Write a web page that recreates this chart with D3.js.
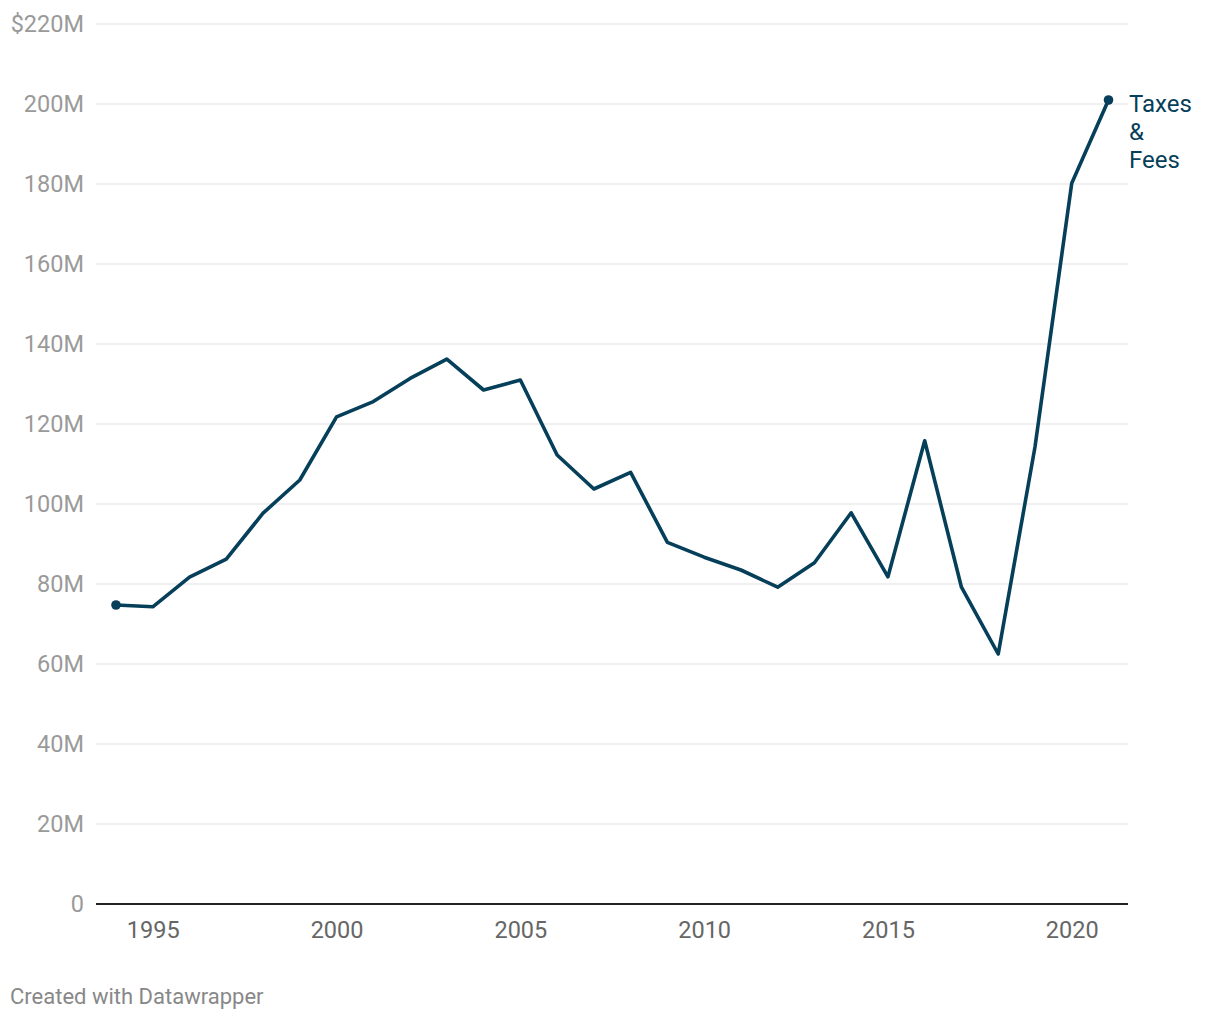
<!DOCTYPE html>
<html>
<head>
<meta charset="utf-8">
<script src="https://cdn.jsdelivr.net/npm/d3@7"></script>
<style>
  body { margin: 0; background: #fff; font-family: Roboto, sans-serif; }
</style>
</head>
<body>
<svg id="chart"></svg>
<script>
const years = d3.range(1994, 2022);
const taxesFees = [74.75, 74.3, 81.7, 86.2, 97.7, 106, 121.8, 125.6, 131.4, 136.2,
  128.5, 131, 112.25, 103.75, 107.9, 90.4, 86.7, 83.5, 79.2, 85.3,
  97.8, 81.8, 115.8, 79.2, 62.5, 114.25, 180.2, 201];
const yTicks = [0, 20, 40, 60, 80, 100, 120, 140, 160, 180, 200, 220];
const xTicks = [1995, 2000, 2005, 2010, 2015, 2020];
const seriesLabel = ["Taxes", "&", "Fees"];

const width = 1220, height = 1020;
const svg = d3.select("#chart").attr("width", width).attr("height", height);

const x = d3.scaleLinear().domain([1994, 2021]).range([116, 1108.5]);
const y = d3.scaleLinear().domain([0, 220]).range([904, 24]);
const color = "#063f5a";

// gridlines
svg.append("g")
  .selectAll("line")
  .data(yTicks.filter(d => d > 0))
  .enter().append("line")
  .attr("x1", 96).attr("x2", 1128)
  .attr("y1", d => y(d)).attr("y2", d => y(d))
  .attr("stroke", "#e2e2e2").attr("stroke-width", 1.2);

// y labels
svg.append("g")
  .selectAll("text")
  .data(yTicks)
  .enter().append("text")
  .attr("x", 84).attr("y", d => y(d))
  .attr("dy", "0.36em")
  .attr("text-anchor", "end")
  .attr("fill", "#9a9a9a")
  .style("font-size", "23.5px")
  .text(d => d === 0 ? "0" : (d === 220 ? "$" : "") + d + "M");

// baseline
svg.append("line")
  .attr("x1", 96).attr("x2", 1128)
  .attr("y1", y(0)).attr("y2", y(0))
  .attr("stroke", "#222").attr("stroke-width", 2);

// x axis
const xAxis = svg.append("g")
  .attr("transform", `translate(0,${y(0)})`)
  .call(d3.axisBottom(x).tickValues(xTicks).tickFormat(d3.format("d")).tickSize(0).tickPadding(17));
xAxis.select(".domain").remove();
xAxis.selectAll("text")
  .attr("fill", "#666")
  .style("font-family", "Roboto, sans-serif")
  .style("font-size", "23.5px");

// line
const line = d3.line().x((d, i) => x(years[i])).y(d => y(d));
svg.append("path")
  .datum(taxesFees)
  .attr("d", line)
  .attr("fill", "none")
  .attr("stroke", color)
  .attr("stroke-width", 3.6)
  .attr("stroke-linejoin", "round");

// end points
const last = taxesFees.length - 1;
svg.selectAll("circle.end")
  .data([0, last])
  .enter().append("circle")
  .attr("cx", i => x(years[i]))
  .attr("cy", i => y(taxesFees[i]))
  .attr("r", 4.8)
  .attr("fill", color);

// series label
svg.append("text")
  .attr("x", 1129)
  .attr("y", y(taxesFees[last]) + 12)
  .attr("fill", color)
  .style("font-size", "24px")
  .selectAll("tspan")
  .data(seriesLabel)
  .enter().append("tspan")
  .attr("x", 1129)
  .attr("dy", (d, i) => i === 0 ? 0 : 28)
  .text(d => d);

// footer
svg.append("text")
  .attr("x", 10).attr("y", 1004)
  .attr("fill", "#888")
  .style("font-size", "22px")
  .text("Created with Datawrapper");
</script>
</body>
</html>
